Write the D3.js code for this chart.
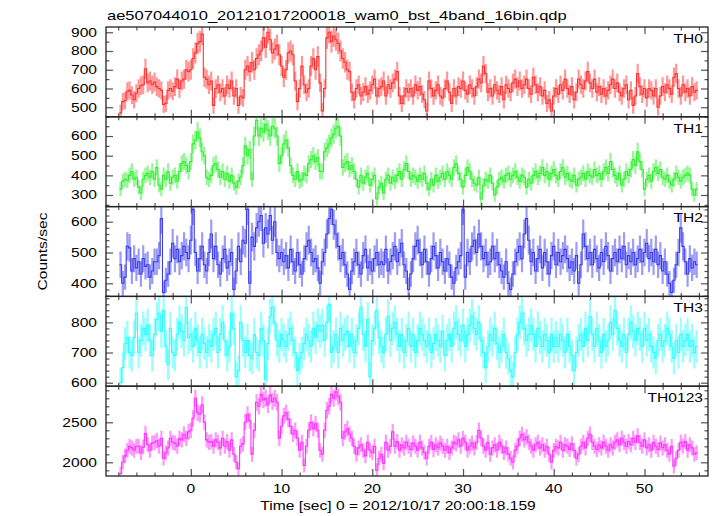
<!DOCTYPE html>
<html><head><meta charset="utf-8">
<script src="https://cdn.jsdelivr.net/npm/d3@7"></script>
<style>
body{margin:0;background:#fff}
svg{display:block;background:#fff}
text{font-family:"Liberation Sans",Arial,Helvetica,sans-serif;fill:#000}
</style>
</head><body>
<svg id="chart" width="717" height="516"></svg>
<script>
// ---------------- data ----------------
const titleText = "ae507044010_20121017200018_wam0_bst_4band_16bin.qdp";
const xLabelText = "Time [sec] 0 = 2012/10/17 20:00:18.159";
const yLabelText = "Counts/sec";
const bandNames = ["TH0", "TH1", "TH2", "TH3", "TH0123"];
const tStart = -7.75;      // centre of first bin (sec)
const binWidth = 0.25;     // sec

const th0 = [
 470,530,535,585, 590,565,540,575, 600,615,620,705, 630,640,620,635, 610,600,590,515, 520,590,600,585, 610,650,600,640, 650,700,690,700,
 760,790,840,850, 890,660,650,620, 640,510,600,620, 580,600,560,620, 600,640,560,600, 510,560,550,700, 720,690,740,700, 760,780,800,870,
 820,900,860,790, 810,830,780,720, 660,700,790,800, 780,640,530,600, 720,620,580,600, 720,760,700,770, 630,480,600,870, 900,850,880,860,
 840,800,760,740, 700,690,580,540, 600,620,560,580, 610,570,590,620, 650,560,600,610, 640,560,620,600, 630,650,690,560, 520,560,600,580,
 600,560,620,590, 610,570,540,480, 640,600,560,590, 620,560,550,600, 640,580,520,600, 560,610,600,640, 590,570,620,600, 560,610,650,630,
 720,680,580,600, 560,620,590,570, 610,540,620,600, 580,630,650,610, 640,600,620,650, 600,570,660,620, 580,610,560,590, 520,540,480,560,
 600,570,620,590, 650,600,570,610, 540,580,650,620, 600,640,690,630, 600,650,580,610, 570,600,560,590, 620,650,600,630, 580,560,600,620,
 540,590,510,560, 680,610,570,600, 550,600,590,560, 600,500,560,610, 580,620,600,570, 660,680,600,560, 620,580,600,560, 610,580,590
];
const th1 = [
 330,370,380,375, 400,420,380,390, 340,310,380,400, 410,390,420,380, 440,350,330,400, 380,420,360,390, 400,370,420,460, 470,450,420,470,
 560,580,620,590, 520,500,390,380, 400,450,460,430, 390,420,380,410, 370,400,360,340, 370,390,450,550, 500,530,380,600, 680,600,640,620,
 660,630,600,650, 640,600,460,500, 560,580,540,450, 400,380,420,370, 380,410,400,460, 480,500,470,490, 420,420,520,540, 560,590,610,640,
 650,600,440,460, 470,430,450,420, 380,340,400,360, 390,410,350,380, 400,280,340,360, 310,380,400,360, 390,370,400,420, 380,430,460,420,
 380,400,390,370, 400,380,410,360, 330,380,350,400, 370,390,410,380, 420,400,380,440, 460,410,380,340, 400,440,420,380, 360,350,390,280,
 350,380,370,400, 360,300,340,380, 390,370,400,410, 380,400,420,390, 370,400,390,340, 380,360,400,420, 390,410,440,400, 420,380,410,430,
 400,380,420,440, 390,410,380,370, 400,350,380,390, 410,380,420,400, 390,430,400,410, 380,420,440,410, 470,430,400,380, 410,350,380,420,
 400,430,480,450, 520,470,430,330, 380,400,370,420, 440,410,430,390, 380,400,370,350, 380,410,390,370, 390,400,410,400, 330,300,330
];
const th2 = [
 460,400,420,520, 515,440,480,450, 470,430,480,455, 460,420,440,470, 470,490,610,370, 410,430,470,530, 480,510,470,490, 520,500,480,540,
 640,500,440,480, 520,460,440,500, 560,480,520,460, 430,480,510,450, 470,500,380,440, 520,470,540,530, 640,400,550,520, 580,600,620,530,
 580,560,620,540, 600,500,480,500, 470,490,450,510, 470,440,500,460, 430,480,520,540, 500,470,480,450, 400,470,500,560, 610,640,590,560,
 520,480,500,460, 430,380,440,470, 500,460,430,490, 510,450,470,440, 480,500,460,470, 460,510,440,470, 490,520,470,500, 530,460,440,380,
 430,480,520,540, 500,460,510,470, 430,480,520,490, 450,500,470,440, 480,460,420,400, 450,470,490,640, 420,500,470,520, 540,500,560,520,
 480,500,460,470, 520,480,500,460, 440,420,470,400, 380,430,470,500, 520,480,560,610, 540,470,500,440, 480,510,450,500, 470,430,490,520,
 460,500,470,490, 510,480,450,470, 440,490,400,460, 560,520,480,500, 460,510,480,450, 500,470,520,490, 440,480,500,470, 510,480,520,460,
 490,470,500,460, 480,510,470,500, 530,480,500,470, 510,460,490,440, 470,430,400,370, 410,460,500,580, 520,470,430,480, 450,470,460
];
const th3 = [
 600,650,730,750, 700,690,750,830, 700,740,780,760, 790,740,690,760, 810,830,770,840, 720,660,780,700, 690,760,800,770, 740,850,750,760,
 720,780,740,700, 760,730,700,740, 720,760,780,700, 760,800,740,690, 720,830,780,620, 640,800,740,700, 740,690,680,760, 700,690,780,740,
 610,730,820,850, 800,740,720,760, 740,720,760,780, 740,700,640,680, 700,730,760,740, 720,780,750,790, 770,790,740,800, 860,700,720,760,
 700,780,740,760, 770,720,760,700, 740,780,850,760, 720,810,620,740, 780,840,750,720, 700,760,820,740, 780,800,760,720, 760,700,740,780,
 720,760,700,740, 780,760,740,720, 760,700,730,760, 740,720,770,690, 740,760,720,780, 800,760,740,790, 720,760,790,820, 780,760,800,740,
 700,650,720,760, 740,780,730,700, 720,760,700,680, 640,620,700,760, 800,830,780,740, 760,790,760,720, 780,750,720,760, 740,700,760,720,
 750,720,760,740, 700,760,720,690, 640,700,740,760, 720,780,740,820, 760,720,780,740, 700,760,720,740, 800,760,840,780, 740,720,760,700,
 760,800,770,740, 780,760,720,780, 740,760,720,700, 680,740,760,720, 740,780,760,720, 680,740,700,760, 720,740,760,720, 740,700,720
];
const th0123 = [
 1860,2000,2080,2150, 2200,2180,2150,2200, 2200,2120,2190,2360, 2220,2150,2240,2250, 2270,2200,2300,2050, 2120,2180,2300,2250, 2240,2200,2300,2280, 2350,2300,2380,2400,
 2550,2800,2620,2600, 2720,2500,2280,2250, 2260,2200,2280,2250, 2180,2300,2200,2260, 2150,2280,2100,2000, 1920,2200,2230,2500, 2600,2520,2100,2400, 2750,2700,2850,2780,
 2800,2720,2840,2760, 2800,2750,2300,2450, 2580,2620,2540,2450, 2350,2400,2300,2150, 2250,1960,2200,2400, 2500,2420,2480,2400, 2150,2100,2400,2650, 2700,2850,2800,2880,
 2820,2750,2300,2380, 2420,2350,2300,2200, 2100,2180,2220,2150, 2080,2250,2150,2120, 2200,1900,2050,2100, 1990,2250,2150,2200, 2380,2200,2260,2150, 2220,2180,2250,2200,
 2160,2240,2200,2150, 2250,2180,2120,2050, 2200,2250,2160,2220, 2180,2240,2200,2150, 2200,2120,2180,2250, 2230,2280,2200,2300, 2250,2150,2200,2240, 2180,2250,2400,2300,
 2200,2150,2250,2100, 2180,2220,2150,2250, 2200,2120,2180,2100, 2050,2000,2150,2200, 2300,2350,2280,2320, 2250,2200,2150,2220, 2250,2180,2220,2150, 2200,2100,2000,2150,
 2200,2180,2250,2150, 2220,2200,2160,2230, 2150,2050,2100,2200, 2250,2180,2300,2350, 2250,2200,2160,2220, 2180,2250,2200,2150, 2220,2180,2250,2280, 2220,2300,2250,2200,
 2260,2220,2300,2250, 2330,2250,2200,2280, 2180,2220,2150,2250, 2200,2160,2240,2180, 2220,2150,2100,2200, 1950,2050,2150,2250, 2200,2260,2150,2220, 2180,2100,2120
];

const xDomain = [-9.35, 57.0];
const xMajorTicks = [0, 10, 20, 30, 40, 50];
const xMinorStep = 2;
const yDomains = [[449, 928], [241, 698], [357.5, 649], [588.4, 886], [1829, 2951]];
const yMajorTicks = [[500, 600, 700, 800, 900], [300, 400, 500, 600], [400, 500, 600], [600, 700, 800], [2000, 2500]];
const yMinorSteps = [50, 50, 20, 20, 100];

// ---------------- drawing ----------------
const series = [th0, th1, th2, th3, th0123];
const colors = ["#ff3030", "#2ef02e", "#3a3aee", "#30ffff", "#ff30ff"];
const plotLeft = 106, plotRight = 708, plotTop = 27, plotBottom = 476;
const ph = (plotBottom - plotTop) / series.length;
const SX = 1.3; // horizontal stretch of the PGPLOT-like font
const svg = d3.select("#chart");
const x = d3.scaleLinear().domain(xDomain).range([plotLeft, plotRight]);

function label(g, str, x0, y0, anchor, size, rot) {
  g.append("text")
    .attr("transform", `translate(${x0},${y0})${rot ? ` rotate(${rot})` : ""} scale(${SX},1)`)
    .attr("text-anchor", anchor)
    .style("font-size", size + "px")
    .text(str);
}
function styleAxis(sel, color) {
  sel.select(".domain").remove();
  sel.selectAll(".tick line").attr("stroke", color).attr("stroke-width", 1.2);
  sel.selectAll(".tick text").remove();
}

const defs = svg.append("defs");
const xMinor = d3.range(-8, 57, xMinorStep).filter(v => !xMajorTicks.includes(v));

series.forEach((vals, k) => {
  const y0 = plotTop + k * ph, y1 = y0 + ph;
  const y = d3.scaleLinear().domain(yDomains[k]).range([y1, y0]);
  const g = svg.append("g");
  defs.append("clipPath").attr("id", "clip" + k)
    .append("rect").attr("x", plotLeft).attr("y", y0).attr("width", plotRight - plotLeft).attr("height", ph);

  const data = vals.map((v, i) => ({ t: tStart + i * binWidth, v: v, e: Math.sqrt(v / binWidth) }));
  const dg = g.append("g").attr("clip-path", `url(#clip${k})`);
  dg.selectAll("line.err").data(data).join("line").attr("class", "err")
    .attr("x1", d => x(d.t)).attr("x2", d => x(d.t))
    .attr("y1", d => y(d.v - d.e)).attr("y2", d => y(d.v + d.e))
    .attr("stroke", colors[k]).attr("stroke-opacity", 0.5).attr("stroke-width", 2.2);
  const pts = [];
  data.forEach(d => { pts.push([d.t - binWidth / 2, d.v]); pts.push([d.t + binWidth / 2, d.v]); });
  dg.append("path")
    .attr("d", d3.line().x(p => x(p[0])).y(p => y(p[1]))(pts))
    .attr("fill", "none").attr("stroke", colors[k]).attr("stroke-width", 1.1);

  const yMin = d3.range(Math.ceil(yDomains[k][0] / yMinorSteps[k]) * yMinorSteps[k], yDomains[k][1], yMinorSteps[k])
    .filter(v => !yMajorTicks[k].includes(v));
  const tc = "#555";
  g.append("g").attr("transform", `translate(${plotLeft},0)`).call(d3.axisLeft(y).tickValues(yMajorTicks[k]).tickSize(-7).tickSizeOuter(0)).call(styleAxis, tc);
  g.append("g").attr("transform", `translate(${plotLeft},0)`).call(d3.axisLeft(y).tickValues(yMin).tickSize(-3.5).tickSizeOuter(0)).call(styleAxis, tc);
  g.append("g").attr("transform", `translate(${plotRight},0)`).call(d3.axisRight(y).tickValues(yMajorTicks[k]).tickSize(-7).tickSizeOuter(0)).call(styleAxis, tc);
  g.append("g").attr("transform", `translate(${plotRight},0)`).call(d3.axisRight(y).tickValues(yMin).tickSize(-3.5).tickSizeOuter(0)).call(styleAxis, tc);
  g.append("g").attr("transform", `translate(0,${y1})`).call(d3.axisBottom(x).tickValues(xMajorTicks).tickSize(-7).tickSizeOuter(0)).call(styleAxis, tc);
  g.append("g").attr("transform", `translate(0,${y1})`).call(d3.axisBottom(x).tickValues(xMinor).tickSize(-3.5).tickSizeOuter(0)).call(styleAxis, tc);
  g.append("g").attr("transform", `translate(0,${y0})`).call(d3.axisTop(x).tickValues(xMajorTicks).tickSize(-7).tickSizeOuter(0)).call(styleAxis, tc);
  g.append("g").attr("transform", `translate(0,${y0})`).call(d3.axisTop(x).tickValues(xMinor).tickSize(-3.5).tickSizeOuter(0)).call(styleAxis, tc);

  g.append("rect").attr("x", plotLeft).attr("y", y0).attr("width", plotRight - plotLeft).attr("height", ph)
    .attr("fill", "none").attr("stroke", "#222").attr("stroke-width", 1.3);

  yMajorTicks[k].forEach(v => label(g, String(v), 97, y(v) + 4.3, "end", 12));
  label(g, bandNames[k], 703, y0 + 15.7, "end", 12);
});

xMajorTicks.forEach(v => label(svg, String(v), x(v), 493, "middle", 12));
label(svg, titleText, 107, 20, "start", 12.7);
label(svg, xLabelText, 398, 510, "middle", 12);
label(svg, yLabelText, 47, (plotTop + plotBottom) / 2, "middle", 12, -90);
</script>
</body></html>
